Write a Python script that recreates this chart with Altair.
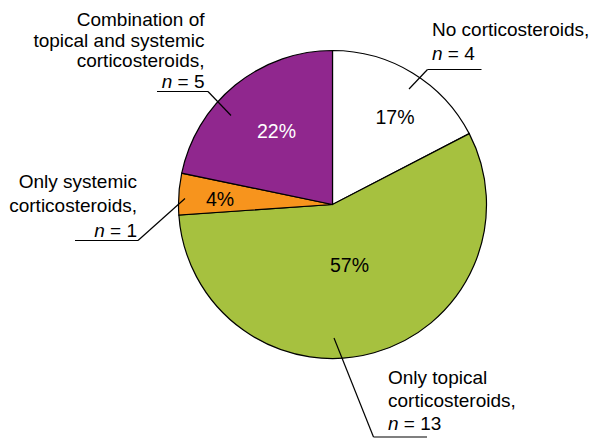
import altair as alt
import pandas as pd

# ---------------- data ----------------
categories = [
    "No corticosteroids",
    "Only topical corticosteroids",
    "Only systemic corticosteroids",
    "Combination of topical and systemic corticosteroids",
]
counts = [4, 13, 1, 5]
label_lines = [
    ["No corticosteroids,"],
    ["Only topical", "corticosteroids,"],
    ["Only systemic", "corticosteroids,"],
    ["Combination of", "topical and systemic", "corticosteroids,"],
]
slice_colors = ["#FFFFFF", "#A6C13F", "#F7941D", "#90278E"]
pct_text_colors = ["#000000", "#000000", "#000000", "#FFFFFF"]

# ---------------- layout (page pixel coordinates) ----------------
PAGE_W, PAGE_H, MARGIN = 600, 438, 8
W, H = PAGE_W - 2 * MARGIN, PAGE_H - MARGIN
CX, CY, R = 332.5, 204.5, 154
FS = 19
PFS = 19.5
FONT = "Liberation Sans"
pct_pos = [(395, 124), (349.5, 271.5), (220, 205.5), (276.5, 137.5)]
blocks = [
    dict(x=432, align="left", baselines=[35.7, 60.3]),
    dict(x=388, align="left", baselines=[383.5, 406.5, 429.5]),
    dict(x=137, align="right", baselines=[187.7, 211.9, 236.5]),
    dict(x=204.5, align="right", baselines=[26, 46.7, 67.3, 88]),
]
leaders = [
    [(409, 89), (427.5, 69.5), (481.5, 69.5)],
    [(334, 338), (373.5, 437), (427, 437)],
    [(185, 198.5), (138, 240.5), (75, 240.5)],
    [(231, 115.5), (208, 91.5), (157, 91.5)],
]

total = sum(counts)
pie_df = pd.DataFrame({
    "category": categories,
    "n": counts,
    "ord": list(range(len(categories))),
})

pct_df = pd.DataFrame({
    "px": [p[0] for p in pct_pos],
    "py": [p[1] for p in pct_pos],
    "text": [f"{round(100 * c / total)}%" for c in counts],
    "tcolor": pct_text_colors,
})

# label text rows
rows = []
for cat, lines, c, b in zip(categories, label_lines, counts, blocks):
    for line, yb in zip(lines, b["baselines"]):
        rows.append(dict(px=b["x"], py=yb, text=line, align=b["align"], italic=False))
    yb = b["baselines"][len(lines)]
    rest = f"= {c}"
    rest_w = (0.584 + 0.278 + 0.556 * len(str(c))) * FS
    if b["align"] == "left":
        rows.append(dict(px=b["x"], py=yb, text="n", align="left", italic=True))
        rows.append(dict(px=b["x"] + 0.834 * FS, py=yb, text=rest, align="left", italic=False))
    else:
        rows.append(dict(px=b["x"], py=yb, text=rest, align="right", italic=False))
        rows.append(dict(px=b["x"] - rest_w - 0.278 * FS, py=yb, text="n", align="right", italic=True))
text_df = pd.DataFrame(rows)

seg_rows = []
for pts in leaders:
    for (x1, y1), (x2, y2) in zip(pts[:-1], pts[1:]):
        seg_rows.append(dict(px=x1, py=y1, px2=x2, py2=y2))
seg_df = pd.DataFrame(seg_rows)

xs = alt.Scale(domain=[MARGIN, PAGE_W - MARGIN], nice=False, zero=False)
ys = alt.Scale(domain=[MARGIN, PAGE_H], reverse=True, nice=False, zero=False)

pie = alt.Chart(pie_df).mark_arc(
    outerRadius=R, stroke="#000000", strokeWidth=1.2
).encode(
    theta=alt.Theta("n:Q", stack=True),
    order=alt.Order("ord:Q"),
    color=alt.Color("category:N", scale=alt.Scale(domain=categories, range=slice_colors), legend=None),
    x=alt.value(CX - MARGIN),
    y=alt.value(CY - MARGIN),
)

pct = alt.Chart(pct_df).mark_text(
    font=FONT, fontSize=PFS, align="center", baseline="alphabetic"
).encode(
    x=alt.X("px:Q", scale=xs, axis=None),
    y=alt.Y("py:Q", scale=ys, axis=None),
    text="text:N",
    color=alt.Color("tcolor:N", scale=None),
)

def text_layer(align, italic):
    d = text_df[(text_df["align"] == align) & (text_df["italic"] == italic)]
    return alt.Chart(d).mark_text(
        font=FONT, fontSize=FS, align=align, baseline="alphabetic",
        fontStyle="italic" if italic else "normal", color="#000000",
    ).encode(
        x=alt.X("px:Q", scale=xs, axis=None),
        y=alt.Y("py:Q", scale=ys, axis=None),
        text="text:N",
    )

segs = alt.Chart(seg_df).mark_rule(color="#000000", strokeWidth=1.2).encode(
    x=alt.X("px:Q", scale=xs, axis=None),
    y=alt.Y("py:Q", scale=ys, axis=None),
    x2="px2:Q",
    y2="py2:Q",
)

chart = alt.layer(
    pie, segs, pct,
    text_layer("left", False), text_layer("left", True),
    text_layer("right", False), text_layer("right", True),
).properties(
    width=W, height=H, padding=0, autosize=alt.AutoSizeParams(type="none")
).configure_view(strokeWidth=0)

chart.save("out.html", embed_options={"renderer": "svg", "actions": False})
